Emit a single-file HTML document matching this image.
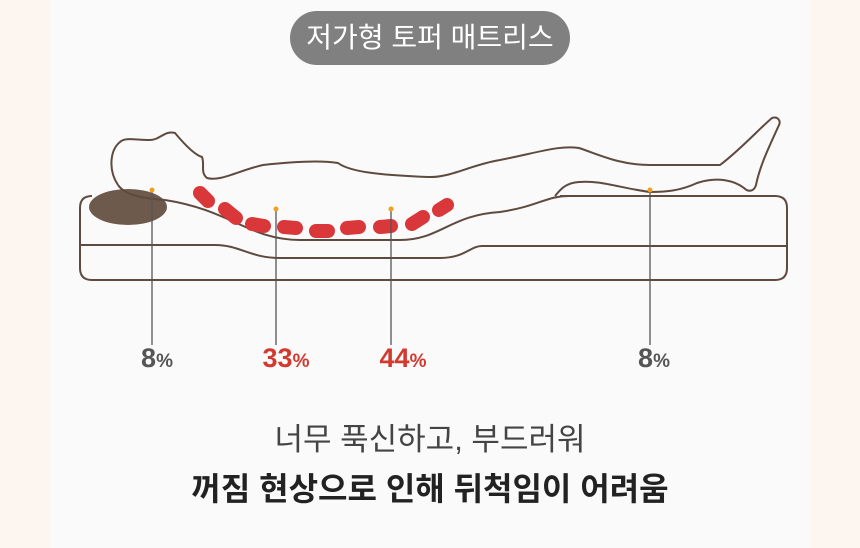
<!DOCTYPE html><html><head><meta charset="utf-8"><style>
body{margin:0;width:860px;height:548px;background:#fdf5f0;overflow:hidden;font-family:"Liberation Sans","Noto Sans CJK KR",sans-serif}
.p{position:absolute;left:50px;top:0;width:760px;height:548px;background:#fafafa}
.pill{position:absolute;left:290px;top:11px;width:280px;height:54px;border-radius:27px;background:#808080;color:#fff;font-size:28px;line-height:54px;text-align:center}
.l{position:absolute;top:343px;font-size:27px;font-weight:bold;width:100px;text-align:center}
.l small{font-size:19px}
.t{position:absolute;left:0;width:860px;text-align:center}
</style></head><body><div class="p"></div>
<div class="pill">저가형 토퍼 매트리스</div>
<svg style="position:absolute;left:0;top:0" width="860" height="548" fill="none" stroke="#5e4a3f" stroke-width="2">
<path d="M560 196 L775 196 Q787 196 787 208 L787 268 Q787 280 775 280 L92 280 Q80 280 80 268 L80 208 Q80 196 92 196"/>
<path d="M80 245 L215 245 C240 245 250 258 280 258 L440 258 C465 258 470 246 482 246 L787 246"/>
<path d="M165 200 C230 210 250 240 300 240 L400 240 C440 240 450 215 500 212 C540 206 545 196 570 196"/>
<path d="M118 185 C108 170 110 150 120 142 C125 137 135 140 150 140 C160 140 165 130 175 133 C185 145 195 155 202 157 C205 165 200 172 207 178 C220 182 240 170 263 165 C290 162 320 160 338 163 C350 172 380 175 428 177 C450 178 470 165 500 160 C540 152 560 145 579 148 C600 155 620 165 650 165 L720 165 C740 150 760 128 772 118 C778 116 781 121 779 125 C770 145 760 165 756 185 C754 192 748 192 744 188 C735 181 718 176 697 183 C680 191 665 192 650 192 C620 188 600 180 579 182 C565 183 560 190 555 196"/>
<ellipse cx="128" cy="207" rx="39" ry="18" fill="#6e5a4d" stroke="none"/>
<path d="M118 185 C125 195 140 198 165 200"/>
<g stroke="#d9373a" stroke-width="14" stroke-linecap="round">
<path d="M200 193 L208 201"/><path d="M225 209 L236 218"/><path d="M252 224 L264 226"/><path d="M284 227 L296 228"/><path d="M316 231 L328 231"/><path d="M347 228 L359 227"/><path d="M380 227 L391 226"/><path d="M412 224 L423 217"/><path d="M439 210 L447 205"/>
</g>
<g stroke="#555" stroke-width="1.3"><path d="M152 190V345M276 209V345M391 209V345M650 190V345"/></g>
<g fill="#f0a01a" stroke="none"><circle cx="152" cy="190" r="2.5"/><circle cx="276" cy="209" r="2.5"/><circle cx="391" cy="209" r="2.5"/><circle cx="650" cy="190" r="2.5"/></g>
</svg>
<div class="l" style="left:107px;color:#555">8<small>%</small></div>
<div class="l" style="left:236px;color:#d23a2f">33<small>%</small></div>
<div class="l" style="left:353px;color:#d23a2f">44<small>%</small></div>
<div class="l" style="left:604px;color:#555">8<small>%</small></div>
<div class="t" style="top:414px;font-size:31px;color:#444">너무 푹신하고, 부드러워</div>
<div class="t" style="top:464px;font-size:32px;font-weight:bold;color:#222">꺼짐 현상으로 인해 뒤척임이 어려움</div>
</body></html>
